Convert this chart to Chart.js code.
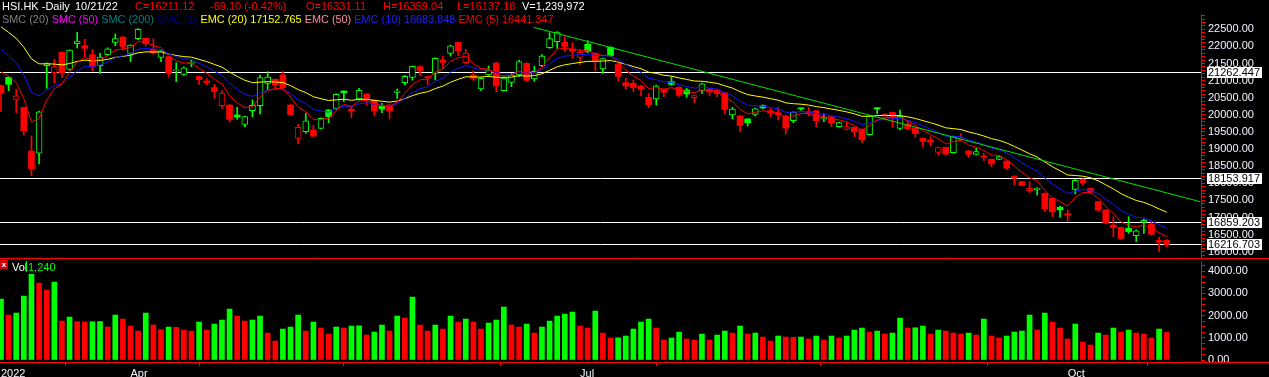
<!DOCTYPE html>
<html>
<head>
<meta charset="utf-8">
<title>HSI.HK Daily</title>
<script src="https://cdn.jsdelivr.net/npm/chart.js@4.4.1/dist/chart.umd.min.js"></script>
<style>
  html, body { margin: 0; padding: 0; background: #000; }
  #wrap { position: relative; width: 1269px; height: 377px; overflow: hidden; background: #000;
          font-family: 'Liberation Sans', Arial, sans-serif; font-size: 11px; }
  #priceCanvas { position: absolute; left: 0; top: 0; }
  #volCanvas { position: absolute; left: 0; top: 258px; }
  .lg { position: absolute; white-space: pre; line-height: 12px; z-index: 5; }
  #row2 { left: 2px; top: 13px; font-size: 10.9px; }
  #volIcon { position: absolute; left: 0; top: 260px; width: 8px; height: 9px; background: #d00000;
             color: #fff; font-size: 8px; line-height: 9px; text-align: center; font-weight: bold; z-index: 5; }
  #volBar { position: absolute; left: 26px; top: 261px; width: 1px; height: 11px; background: #00ff00; z-index: 5; }
</style>
</head>
<body>
<div id="wrap">
  <canvas id="priceCanvas" width="1269" height="260"></canvas>
  <canvas id="volCanvas" width="1269" height="119"></canvas>

  <!-- header row 1 -->
  <span class="lg" style="left:2px;top:0;color:#fff">HSI.HK -Daily</span>
  <span class="lg" style="left:75px;top:0;color:#fff">10/21/22</span>
  <span class="lg" style="left:135px;top:0;color:#ff0000">C=16211.12</span>
  <span class="lg" style="left:210px;top:0;color:#ff0000">-69.10 (-0.42%)</span>
  <span class="lg" style="left:306px;top:0;color:#ff0000">O=16331.11</span>
  <span class="lg" style="left:383px;top:0;color:#ff0000">H=16359.04</span>
  <span class="lg" style="left:457px;top:0;color:#ff0000">L=16137.18</span>
  <span class="lg" style="left:522px;top:0;color:#fff">V=1,239,972</span>

  <!-- header row 2: indicators -->
  <div id="row2" class="lg"><span style="color:#808080">SMC (20)</span> <span style="color:#ff00ff">SMC (50)</span> <span style="color:#008080">SMC (200)</span> <span style="color:#000080">SMC (1)</span> <span style="color:#ffff00">EMC (20) 17152.765</span> <span style="color:#ff8c9c">EMC (50)</span> <span style="color:#2020ff">EMC (10) 16683.848</span> <span style="color:#ff0000">EMC (5) 16441.347</span></div>

  <!-- volume panel header -->
  <div id="volIcon">x</div>
  <span class="lg" style="left:12px;top:261px;color:#fff">Vol</span>
  <div id="volBar"></div>
  <span class="lg" style="left:28px;top:261px;color:#00ff00">1,240</span>
</div>

<script>
// Trading days shown (Mar 9 - Oct 21, 2022)
const dates = [
  '03-09','03-10','03-11','03-14','03-15','03-16','03-17','03-18','03-21','03-22',
  '03-23','03-24','03-25','03-28','03-29','03-30','03-31','04-01','04-04','04-06',
  '04-07','04-08','04-11','04-12','04-13','04-14','04-19','04-20','04-21','04-22',
  '04-25','04-26','04-27','04-28','04-29','05-03','05-04','05-05','05-06','05-10',
  '05-11','05-12','05-13','05-16','05-17','05-18','05-19','05-20','05-23','05-24',
  '05-25','05-26','05-27','05-30','05-31','06-01','06-02','06-06','06-07','06-08',
  '06-09','06-10','06-13','06-14','06-15','06-16','06-17','06-20','06-21','06-22',
  '06-23','06-24','06-27','06-28','06-29','06-30','07-04','07-05','07-06','07-07',
  '07-08','07-11','07-12','07-13','07-14','07-15','07-18','07-19','07-20','07-21',
  '07-22','07-25','07-26','07-27','07-28','07-29','08-01','08-02','08-03','08-04',
  '08-05','08-08','08-09','08-10','08-11','08-12','08-15','08-16','08-17','08-18',
  '08-19','08-22','08-23','08-24','08-25','08-26','08-29','08-30','08-31','09-01',
  '09-02','09-05','09-06','09-07','09-08','09-09','09-13','09-14','09-15','09-16',
  '09-19','09-20','09-21','09-22','09-23','09-26','09-27','09-28','09-29','09-30',
  '10-03','10-05','10-06','10-07','10-10','10-11','10-12','10-13','10-14','10-17',
  '10-18','10-19','10-20','10-21'
];

const opens = [
  20853,21097,20454,20220,18944,18880,21440,21233,21827,21330,
  22080,22022,21759,21437,21759,22119,22275,21798,22227,22236,
  21915,21681,21700,21282,21184,21506,21116,20989,20795,20268,
  20288,19996,19723,20122,20268,20921,21038,21165,20288,19314,
  19509,19558,19606,20142,20191,20697,20161,20463,20610,20434,
  20250,20288,20658,20941,21097,21408,21097,21213,21603,21798,
  22119,21525,21165,20756,21165,21515,20707,20951,21165,21506,
  21050,21437,21964,22139,22119,21925,21681,22061,21798,21340,
  21973,21486,20941,20921,20843,20512,20463,20736,20970,20804,
  20726,20502,20697,20746,20726,20648,19996,19967,19879,20015,
  20270,20122,20064,19967,19830,20190,20094,20122,19880,19947,
  19655,19577,19635,19577,19421,20210,19928,20074,19606,19723,
  19606,19314,19265,18905,19051,18895,19285,18944,18846,18798,
  18700,18700,18651,18200,18048,17785,17810,17707,17560,17300,
  17110,17824,18116,17853,17463,17220,16781,16713,16684,16470,
  16860,16810,16330,16331.11
];

const highs = [
  20880,21110,20746,20230,19382,20110,21520,21623,21840,21900,
  22412,22207,21915,21798,21960,22363,22290,22050,22520,22240,
  22217,21880,21710,21525,21400,21603,21130,21060,20892,20707,
  20300,20220,19960,20434,21165,21262,21050,21262,20300,19723,
  20045,19694,19910,20150,20620,20700,20259,20775,20620,20440,
  20337,20300,20756,21150,21420,21430,21136,21670,21720,22040,
  22130,21915,21291,21080,21428,21530,21110,21213,21603,21520,
  21420,21759,22402,22431,22285,22110,21915,22168,21810,21660,
  21990,21500,21067,21019,20860,20629,20870,20750,21116,20820,
  20775,20580,20930,20775,20740,20660,20220,19980,19890,20200,
  20290,20191,20220,19980,20090,20200,20220,20130,20030,19960,
  19790,19801,19650,19590,19980,20215,20045,20080,20142,19800,
  19620,19330,19363,19060,19060,19380,19450,18960,19022,18876,
  18710,18810,18660,18230,18060,18048,17880,17720,17570,17337,
  17220,18110,18130,17860,17470,17230,17025,16720,17025,16640,
  16957,16879,16421,16359.04
];

const lows = [
  20094,20707,20064,19411,18223,18564,20775,20921,21087,21300,
  21954,21700,21291,21213,21740,22022,21895,21554,22200,22012,
  21770,21554,21116,20970,21150,21408,20892,20880,20483,20191,
  19781,19869,19655,19947,20025,20726,20775,20726,19980,19148,
  19460,19350,19590,19772,20150,20385,19918,20430,20288,19967,
  20064,19879,20483,20880,21019,21136,20873,21019,21360,21720,
  21730,21486,21000,20707,21116,20678,20690,20824,21116,20970,
  20980,21408,21944,21944,21847,21652,21476,21817,21291,21213,
  21715,20989,20746,20678,20551,20210,20288,20532,20860,20540,
  20512,20356,20629,20551,20532,20025,19879,19509,19674,19967,
  20180,19947,19850,19441,19772,20130,19967,19655,19800,19655,
  19640,19558,19363,19187,19410,20030,19850,19636,19558,19558,
  19343,19070,19090,18827,18820,18880,19240,18759,18830,18661,
  18486,18690,18400,17950,17920,17726,17660,17171,17025,17005,
  16898,17687,17950,17710,17180,16820,16440,16370,16538,16294,
  16538,16480,16002,16137.18
];

const closes = [
  20627.71,20890.26,20553.79,19531.66,18415.08,20087.50,21501.23,21412.40,21221.34,21889.28,
  22154.08,21945.95,21404.88,21684.97,21927.63,22232.03,21996.85,22039.55,22502.31,22080.52,
  21808.98,21872.01,21208.30,21319.13,21374.37,21518.08,21027.76,20944.67,20682.22,20638.52,
  19869.34,19934.71,19946.36,20276.17,21089.39,21101.89,20869.52,20793.40,20001.96,19633.69,
  19824.57,19380.34,19898.77,19950.21,20602.52,20644.28,20120.68,20717.24,20470.06,20112.10,
  20171.27,20116.20,20697.36,21123.93,21415.20,21294.94,21082.13,21653.90,21531.67,22014.59,
  21869.05,21806.18,21067.58,21067.99,21308.21,20845.43,21075.00,21163.91,21559.59,21008.34,
  21273.87,21719.06,22229.52,22418.97,21996.89,21859.79,21830.35,21853.07,21586.66,21643.58,
  21725.78,21124.20,20844.74,20797.95,20751.21,20297.72,20846.18,20661.06,20890.22,20574.63,
  20609.14,20562.94,20905.88,20670.04,20622.68,20156.51,20165.84,19689.21,19767.09,20174.04,
  20201.94,20045.77,20003.44,19610.84,20082.43,20175.62,20040.86,19830.52,19922.45,19763.91,
  19773.03,19656.98,19503.25,19268.74,19968.38,20170.04,20023.22,19949.03,19954.39,19597.31,
  19452.09,19224.83,19202.73,19044.30,18854.62,19362.25,19326.86,18847.10,18930.38,18761.69,
  18565.97,18781.42,18444.62,18147.95,17933.27,17855.14,17860.31,17250.88,17165.87,17222.83,
  17079.51,18087.97,18012.15,17740.05,17216.66,16832.36,16701.72,16389.11,16587.69,16612.90,
  16914.58,16511.28,16280.22,16211.12
];

// volume in thousands
const volumes = [
  2741,2022,2112,2876,3865,3460,3146,3505,1753,1932,
  1723,1710,1723,1730,1483,2022,1843,1528,1303,2112,
  1573,1363,1483,1470,1348,1303,1708,1348,1618,1798,
  2292,1977,1753,1798,1977,1213,854,1393,1483,2022,
  1303,1708,1438,1168,1483,1438,1528,1540,1123,1258,
  1573,1303,1977,1887,2831,1573,1303,1573,1393,1977,
  1708,1843,1708,1393,1663,1798,2382,1573,1483,1618,
  1213,1483,1753,1977,2067,2157,1528,1438,2202,1213,
  989,1000,1079,1393,1708,1843,1438,899,989,1258,
  944,899,1168,899,1123,1303,1213,1528,1168,1213,
  1034,854,1079,1034,1020,1034,944,1079,899,1079,
  989,1079,1348,1438,1258,1303,1168,1213,1887,1438,
  1450,1528,1168,1348,1303,1213,1168,1213,1123,1843,
  1079,989,1079,1258,1303,2022,1348,2112,1708,1438,
  944,1618,809,674,1213,1123,1438,1258,1348,1213,
  1168,989,1393,1240
];

const prevClose = 20765.87;                       // close of the bar before the first one
const emaSeed = { 5: 21570, 10: 22205, 20: 22776 }; // average values just before the first bar
const levelPrices = [21262.447, 18153.917, 16859.203, 16216.703];
const trendIdx = [69.9, 157.4];
const trendPrice = [22558, 17463];
const monthTickIdx = [0, 17, 35, 55, 76, 96, 119, 140];
const monthTickLabels = ['2022', 'Apr', '', '', 'Jul', '', '', 'Oct'];

const UP = '#00ff00';
const DOWN = '#ff0000';
const X_MIN = -0.13, X_MAX = 157.5;
const PRICE_MIN = 15817, PRICE_MAX = 22947;
const VOL_MIN = -90, VOL_MAX = 4455;

Chart.defaults.font.family = "'Liberation Sans', Arial, sans-serif";
Chart.defaults.font.size = 11;

function ema(values, n, seed) {
  const a = 2 / (n + 1);
  let prev = seed;
  return values.map(v => (prev = prev + a * (v - prev)));
}

const candleColor = closes.map((c, i) => c >= (i ? closes[i - 1] : prevClose) ? UP : DOWN);
const hollow = closes.map((c, i) => c > opens[i]);
const bodies = closes.map((c, i) => ({ x: i, y: [opens[i], c] }));
const wicks = closes.map((c, i) => ({ x: i, y: [lows[i], highs[i]] }));
const volColor = volumes.map((v, i) => (i === 0 || v >= volumes[i - 1]) ? UP : DOWN);

function linePoints(arr) { return arr.map((v, i) => ({ x: i, y: v })); }

// no automatic label padding: keep the plot area where the layout puts it
function noPad(s) {
  s.paddingTop = 0; s.paddingBottom = 0; s.paddingLeft = 0; s.paddingRight = 0;
}

// horizontal level lines + their boxed labels on the axis
const levelLines = {
  id: 'levelLines',
  beforeDatasetsDraw(chart) {
    const { ctx, chartArea, scales: { y } } = chart;
    ctx.save();
    ctx.strokeStyle = '#ffffff';
    ctx.lineWidth = 1;
    levelPrices.forEach(p => {
      const py = Math.round(y.getPixelForValue(p)) + 0.5;
      ctx.beginPath();
      ctx.moveTo(chartArea.left, py);
      ctx.lineTo(chartArea.right, py);
      ctx.stroke();
    });
    ctx.restore();
  },
  afterDraw(chart) {
    const { ctx, chartArea, scales: { y } } = chart;
    ctx.save();
    ctx.font = "11px 'Liberation Sans', Arial, sans-serif";
    ctx.textBaseline = 'middle';
    levelPrices.forEach(p => {
      const py = Math.round(y.getPixelForValue(p));
      const txt = p.toFixed(3);
      const w = ctx.measureText(txt).width;
      ctx.fillStyle = '#ffffff';
      ctx.fillRect(chartArea.right + 6, py - 5, w + 3, 11);
      ctx.fillStyle = '#000000';
      ctx.fillText(txt, chartArea.right + 7, py + 1);
    });
    ctx.restore();
  }
};

// red separator under each panel
const panelFrame = {
  id: 'panelFrame',
  afterDraw(chart) {
    const { ctx, chartArea } = chart;
    ctx.save();
    ctx.strokeStyle = '#ff0000';
    ctx.lineWidth = 1;
    const y = Math.round(chartArea.bottom) + 0.5;
    ctx.beginPath();
    ctx.moveTo(0, y);
    ctx.lineTo(chart.width, y);
    ctx.stroke();
    ctx.restore();
  }
};

function stepTicks(from, to, step) {
  const out = [];
  for (let v = Math.ceil(from / step) * step; v <= to; v += step) out.push({ value: v });
  return out;
}

new Chart(document.getElementById('priceCanvas'), {
  type: 'bar',
  data: {
    datasets: [
      { type: 'line', label: 'trend', data: trendIdx.map((x, i) => ({ x, y: trendPrice[i] })),
        borderColor: '#00e000', borderWidth: 1, pointRadius: 0, order: 1 },
      { type: 'line', label: 'EMC (5)', data: linePoints(ema(closes, 5, emaSeed[5])),
        borderColor: '#ff0000', borderWidth: 1, pointRadius: 0, order: 2 },
      { type: 'line', label: 'EMC (10)', data: linePoints(ema(closes, 10, emaSeed[10])),
        borderColor: '#1515ff', borderWidth: 1, pointRadius: 0, order: 2 },
      { type: 'line', label: 'EMC (20)', data: linePoints(ema(closes, 20, emaSeed[20])),
        borderColor: '#ffff00', borderWidth: 1, pointRadius: 0, order: 2 },
      { label: 'body', data: bodies, grouped: false, barThickness: 6, minBarLength: 1,
        backgroundColor: candleColor.map((c, i) => hollow[i] ? '#000000' : c),
        borderColor: candleColor, borderWidth: hollow.map(h => h ? 1 : 0),
        borderSkipped: false, order: 3 },
      { label: 'wick', data: wicks, grouped: false, barThickness: 1,
        backgroundColor: candleColor, borderWidth: 0, order: 4 }
    ]
  },
  options: {
    responsive: false,
    animation: false,
    events: [],
    layout: { padding: { top: 14, bottom: 2, left: 0, right: 0 } },
    plugins: { legend: { display: false }, tooltip: { enabled: false } },
    scales: {
      x: { type: 'linear', min: X_MIN, max: X_MAX, offset: false, display: false },
      y: {
        position: 'right', min: PRICE_MIN, max: PRICE_MAX,
        afterFit(s) { s.width = 68; noPad(s); },
        afterBuildTicks(s) { s.ticks = stepTicks(PRICE_MIN, PRICE_MAX, 100); },
        ticks: {
          autoSkip: false, padding: 3, color: '#f2f6ff',
          callback: v => (v % 500 === 0 ? v.toFixed(2) : '')
        },
        grid: { drawOnChartArea: false, color: '#ff0000', tickLength: 4 },
        border: { color: '#ff0000', width: 1 }
      }
    }
  },
  plugins: [levelLines, panelFrame]
});

new Chart(document.getElementById('volCanvas'), {
  type: 'bar',
  data: {
    datasets: [
      { label: 'Vol', data: linePoints(volumes), grouped: false, barThickness: 5,
        backgroundColor: volColor, borderWidth: 0 }
    ]
  },
  options: {
    responsive: false,
    animation: false,
    events: [],
    layout: { padding: { top: 3, left: 0, right: 0, bottom: 0 } },
    plugins: { legend: { display: false }, tooltip: { enabled: false } },
    scales: {
      x: {
        type: 'linear', min: X_MIN, max: X_MAX, offset: false,
        afterFit(s) { s.height = 15; noPad(s); },
        afterBuildTicks(s) { s.ticks = monthTickIdx.map(v => ({ value: v })); },
        ticks: {
          autoSkip: false, maxRotation: 0, align: 'start', padding: 1, color: '#f2f6ff',
          callback: v => monthTickLabels[monthTickIdx.indexOf(v)] || ''
        },
        grid: { drawOnChartArea: false, color: '#ff0000', tickLength: 4 },
        border: { display: false }
      },
      y: {
        position: 'right', min: VOL_MIN, max: VOL_MAX,
        afterFit(s) { s.width = 68; noPad(s); },
        afterBuildTicks(s) { s.ticks = stepTicks(0, VOL_MAX, 250); },
        ticks: {
          autoSkip: false, padding: 3, color: '#f2f6ff',
          callback: v => (v % 1000 === 0 ? v.toFixed(2) : '')
        },
        grid: { drawOnChartArea: false, color: '#ff0000', tickLength: 4 },
        border: { color: '#ff0000', width: 1 }
      }
    }
  },
  plugins: [panelFrame]
});
</script>
</body>
</html>
